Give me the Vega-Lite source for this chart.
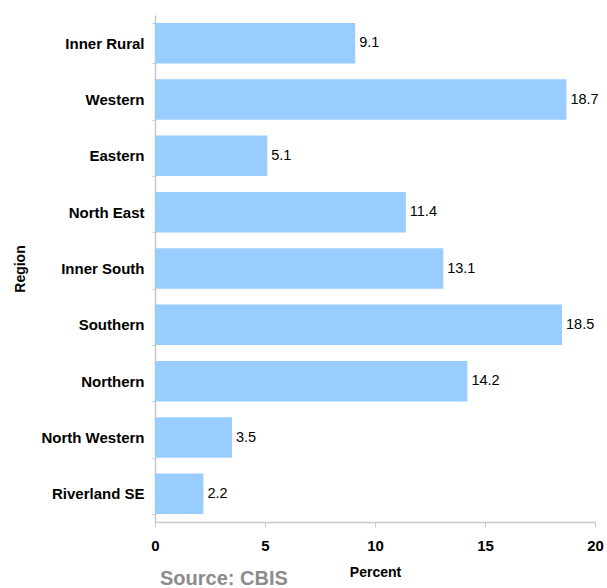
{
  "$schema": "https://vega.github.io/schema/vega-lite/v6.json",
  "width": 440,
  "height": 507,
  "autosize": {"type": "none"},
  "padding": {"left": 155, "top": 15, "right": 12, "bottom": 66},
  "background": "white",
  "config": {
    "font": "Liberation Sans",
    "view": {"stroke": null}
  },
  "title": {
    "text": "Source: CBIS",
    "orient": "bottom",
    "anchor": "start",
    "frame": "group",
    "offset": -10,
    "dx": 5,
    "fontSize": 20,
    "fontWeight": "bold",
    "color": "#8c8c8c",
    "font": "Liberation Sans"
  },
  "data": {
    "values": [
      {"region": "Inner Rural", "percent": 9.1},
      {"region": "Western", "percent": 18.7},
      {"region": "Eastern", "percent": 5.1},
      {"region": "North East", "percent": 11.4},
      {"region": "Inner South", "percent": 13.1},
      {"region": "Southern", "percent": 18.5},
      {"region": "Northern", "percent": 14.2},
      {"region": "North Western", "percent": 3.5},
      {"region": "Riverland SE", "percent": 2.2}
    ]
  },
  "encoding": {
    "y": {
      "field": "region",
      "type": "nominal",
      "sort": null,
      "scale": {"paddingInner": 0.28, "paddingOuter": 0.14},
      "axis": {
        "title": "Region",
        "titleFontSize": 14,
        "titleFontWeight": "bold",
        "titleColor": "black",
        "titlePadding": 13,
        "labelFontSize": 15,
        "labelFontWeight": "bold",
        "labelColor": "black",
        "labelPadding": 8,
        "tickBand": "extent",
        "tickSize": 3,
        "tickColor": "#c8c8c8",
        "domainColor": "#c8c8c8",
        "domainWidth": 1.5
      }
    }
  },
  "layer": [
    {
      "mark": {"type": "bar", "color": "#99ccff"},
      "encoding": {
        "x": {
          "field": "percent",
          "type": "quantitative",
          "scale": {"domain": [0, 20], "nice": false},
          "axis": {
            "title": "Percent",
            "values": [0, 5, 10, 15, 20],
            "grid": false,
            "labelFlush": false,
            "titleFontSize": 14,
            "titleFontWeight": "bold",
            "titleColor": "black",
            "titlePadding": 12,
            "labelFontSize": 15,
            "labelFontWeight": "bold",
            "labelColor": "black",
            "labelPadding": 11,
            "tickSize": 5,
            "tickColor": "#c8c8c8",
            "domainColor": "#c8c8c8",
            "domainWidth": 1.5
          }
        }
      }
    },
    {
      "mark": {"type": "text", "align": "left", "dx": 4, "fontSize": 14.5, "color": "black"},
      "encoding": {
        "x": {"field": "percent", "type": "quantitative"},
        "text": {"field": "percent", "type": "quantitative", "format": ".1f"}
      }
    }
  ]
}
